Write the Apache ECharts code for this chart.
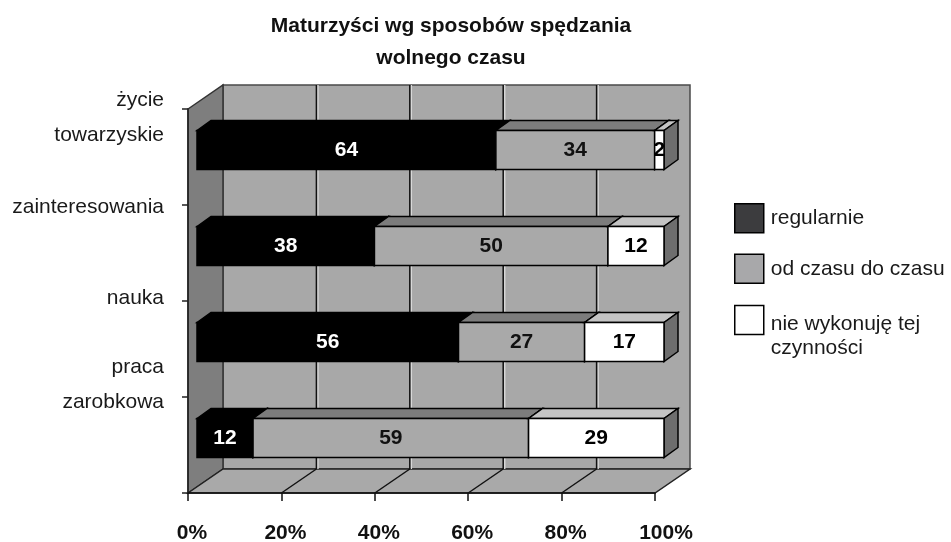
<!DOCTYPE html>
<html>
<head>
<meta charset="utf-8">
<style>html,body{margin:0;padding:0;background:#fff}#c{width:951px;height:542px}</style>
<script src="https://cdn.jsdelivr.net/npm/echarts@6/dist/echarts.min.js"></script>
</head>
<body>
<div id="c"></div>
<script>
const categories = ['życie\ntowarzyskie', 'zainteresowania', 'nauka', 'praca\nzarobkowa'];
const regularnie = [64, 38, 56, 12];
const odCzasuDoCzasu = [34, 50, 27, 59];
const nieWykonuje = [2, 12, 17, 29];
const xTicks = [0, 20, 40, 60, 80, 100];
const titleText = 'Maturzyści wg sposobów spędzania\nwolnego czasu';

const FONT = '"Liberation Sans", Arial, sans-serif';
const labelLift = [78, 92, 102, 120];
const DEPTH = { x: 35, y: -24 };
const BAR = { dx: 9, dy: -7, depthX: 14, depthY: -10, half: 0.203 };

function poly(points, fill, stroke, lw) {
  return { type: 'polygon', shape: { points }, style: { fill, stroke: stroke || '#000', lineWidth: lw === undefined ? 1.5 : lw } };
}

function wallsItem(params, api) {
  const s = params.coordSys;
  const L = s.x, R = s.x + s.width, T = s.y, B = s.y + s.height;
  const dx = DEPTH.x, dy = DEPTH.y;
  const children = [
    poly([[L + dx, T + dy], [R + dx, T + dy], [R + dx, B + dy], [L + dx, B + dy]], '#a8a8a8', '#4a4a4a', 1.5),
    poly([[L, T], [L + dx, T + dy], [L + dx, B + dy], [L, B]], '#7e7e7e', '#333', 1.5),
    poly([[L, B], [L + dx, B + dy], [R + dx, B + dy], [R, B]], '#a9a9a9', '#222', 1.5)
  ];
  xTicks.forEach(function (t) {
    if (t === 0 || t === 100) return;
    const x = api.coord([t, 0])[0];
    children.push({ type: 'line', shape: { x1: x + dx + 1.5, y1: T + dy, x2: x + dx + 1.5, y2: B + dy }, style: { stroke: '#d8d8d8', lineWidth: 1.5 } });
    children.push({ type: 'line', shape: { x1: x + dx, y1: T + dy, x2: x + dx, y2: B + dy }, style: { stroke: '#111', lineWidth: 1.5 } });
    children.push({ type: 'line', shape: { x1: x, y1: B, x2: x + dx, y2: B + dy }, style: { stroke: '#111', lineWidth: 1.5 } });
  });
  return { type: 'group', children };
}

function barItem(face, top, side, textColor) {
  return function (params, api) {
    const a = api.coord([api.value(0), api.value(2)]);
    const b = api.coord([api.value(1), api.value(2)]);
    const h = api.size([0, 1])[1] * BAR.half;
    const x0 = a[0] + BAR.dx, x1 = b[0] + BAR.dx;
    const y0 = a[1] + BAR.dy - h, y1 = a[1] + BAR.dy + h;
    const ox = BAR.depthX, oy = BAR.depthY;
    return {
      type: 'group',
      children: [
        poly([[x0, y0], [x0 + ox, y0 + oy], [x1 + ox, y0 + oy], [x1, y0]], top),
        poly([[x1, y0], [x1 + ox, y0 + oy], [x1 + ox, y1 + oy], [x1, y1]], side),
        poly([[x0, y0], [x1, y0], [x1, y1], [x0, y1]], face),
        {
          type: 'text',
          x: (x0 + x1) / 2, y: (y0 + y1) / 2,
          z2: 10,
          style: { text: String(api.value(3)), fill: textColor, font: 'bold 21px ' + FONT, align: 'center', verticalAlign: 'middle' }
        }
      ]
    };
  };
}

function rows(values, starts) {
  return values.map(function (v, i) { return [starts[i], starts[i] + v, i, v]; });
}
const zeroStart = regularnie.map(function () { return 0; });
const secondStart = regularnie.slice();
const thirdStart = regularnie.map(function (v, i) { return v + odCzasuDoCzasu[i]; });

const seriesNames = ['regularnie', 'od czasu do czasu', 'nie wykonuję tej czynności'];

const liftRich = {};
labelLift.forEach(function (h, i) { liftRich['s' + i] = { height: h, lineHeight: h, width: 1 }; });

const chart = echarts.init(document.getElementById('c'), null, { renderer: 'canvas' });
chart.setOption({
  animation: false,
  backgroundColor: '#fff',
  title: {
    text: titleText, left: 446, top: 5, textAlign: 'center',
    textStyle: { fontFamily: FONT, fontWeight: 'bold', fontSize: 21, lineHeight: 32, color: '#111' }
  },
  legend: [
    {
      data: [{ name: seriesNames[0], itemStyle: { color: '#3c3c3e', borderColor: '#000', borderWidth: 1.5 } },
             { name: seriesNames[1], itemStyle: { color: '#a8a8aa', borderColor: '#000', borderWidth: 1.5 } }],
      orient: 'vertical', left: 734, top: 203, padding: 0, itemWidth: 29, itemHeight: 29, itemGap: 20,
      icon: 'rect', selectedMode: false,
      textStyle: { fontFamily: FONT, fontSize: 21, color: '#1a1a1a', padding: [0, 0, 0, 2] }
    },
    {
      data: [{ name: seriesNames[2], itemStyle: { color: '#fff', borderColor: '#000', borderWidth: 1.5 } }],
      orient: 'vertical', left: 734, top: 280, padding: 0, itemWidth: 29, itemHeight: 29,
      icon: 'rect', selectedMode: false,
      formatter: function () { return '{b|}\nnie wykonuję tej\nczynności'; },
      textStyle: {
        fontFamily: FONT, fontSize: 21, lineHeight: 24, color: '#1a1a1a', padding: [0, 0, 0, 2],
        rich: { b: { height: 32, lineHeight: 32, width: 1 } }
      }
    }
  ],
  grid: { left: 188, top: 109, width: 467, height: 384, containLabel: false, outerBoundsMode: 'none' },
  xAxis: {
    type: 'value', min: 0, max: 100, interval: 20, z: 5,
    axisLine: { show: true, lineStyle: { color: '#111', width: 1.5 } },
    axisTick: { show: true, length: 8, lineStyle: { color: '#111', width: 1.5 } },
    splitLine: { show: false },
    axisLabel: {
      margin: 30, color: '#111',
      formatter: function (v) { return v === 100 ? '{w|100%}' : v + '%'; },
      rich: { w: { fontFamily: FONT, fontWeight: 'bold', fontSize: 21, color: '#111', padding: [0, 0, 0, 14] } },
      fontFamily: FONT, fontWeight: 'bold', fontSize: 21, padding: [0, 0, 0, 8],
      showMinLabel: true, showMaxLabel: true, hideOverlap: false
    }
  },
  yAxis: {
    type: 'category', inverse: true, z: 5,
    data: categories,
    axisLine: { show: true, lineStyle: { color: '#222', width: 1.5 } },
    axisTick: { show: true, length: 6, alignWithLabel: false, lineStyle: { color: '#222', width: 1.5 } },
    splitLine: { show: false },
    axisLabel: {
      margin: 24, color: '#1a1a1a', fontFamily: FONT, fontSize: 21, lineHeight: 35, align: 'right', interval: 0,
      formatter: function (value, i) { return value + '\n{s' + i + '|}'; },
      rich: liftRich
    }
  },
  series: [
    { type: 'custom', name: 'walls', z: 1, silent: true, renderItem: wallsItem, data: [[0, 0, 0, 0]], encode: { x: 0, y: 2 } },
    { type: 'custom', name: seriesNames[0], z: 2, silent: true, renderItem: barItem('#000', '#000', '#000', '#fff'),
      data: rows(regularnie, zeroStart), encode: { x: [0, 1], y: 2 }, itemStyle: { color: '#000' } },
    { type: 'custom', name: seriesNames[1], z: 3, silent: true, renderItem: barItem('#a9a9a9', '#7c7c7c', '#6e6e6e', '#111'),
      data: rows(odCzasuDoCzasu, secondStart), encode: { x: [0, 1], y: 2 }, itemStyle: { color: '#a9a9a9' } },
    { type: 'custom', name: seriesNames[2], z: 4, silent: true, renderItem: barItem('#fff', '#c4c4c4', '#6e6e6e', '#000'),
      data: rows(nieWykonuje, thirdStart), encode: { x: [0, 1], y: 2 }, itemStyle: { color: '#fff' } }
  ]
});
</script>
</body>
</html>
